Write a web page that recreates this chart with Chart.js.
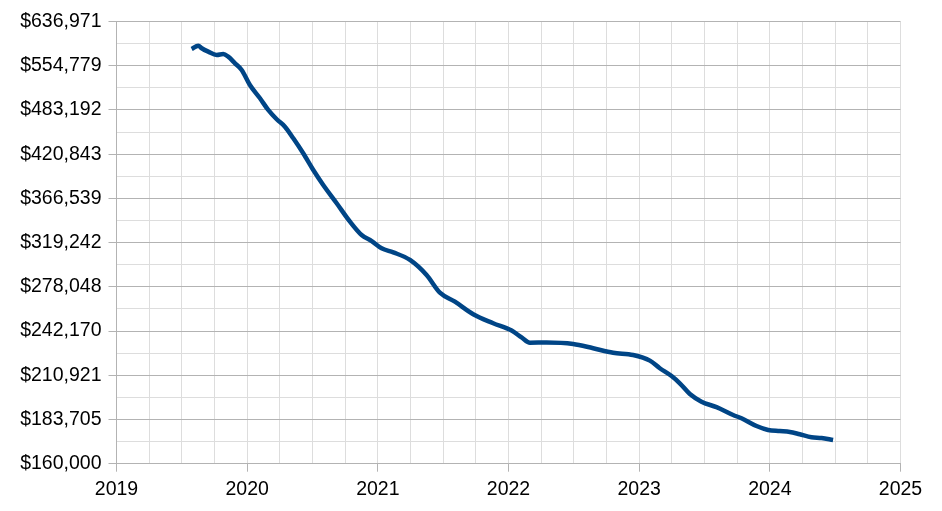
<!DOCTYPE html>
<html>
<head>
<meta charset="utf-8">
<script src="https://cdn.jsdelivr.net/npm/chart.js@4.4.1/dist/chart.umd.min.js"></script>
<style>
  html, body { margin: 0; padding: 0; background: #fff; }
  #wrap { width: 942px; height: 511px; }
</style>
</head>
<body>
<div id="wrap"><canvas id="chart"></canvas></div>
<script>
// decimal years and values
var years = [
  2019.575, 2019.626, 2019.652, 2019.702, 2019.767, 2019.817, 2019.855, 2019.907, 2019.958,
  2020.021, 2020.098, 2020.161, 2020.226, 2020.289, 2020.353, 2020.429, 2020.506, 2020.582,
  2020.685, 2020.787, 2020.876, 2020.953, 2021.029, 2021.118, 2021.246, 2021.373, 2021.475,
  2021.590, 2021.730, 2021.883, 2022.024, 2022.100, 2022.164, 2022.291, 2022.495, 2022.648,
  2022.801, 2022.954, 2023.082, 2023.158, 2023.248, 2023.311, 2023.388, 2023.477, 2023.592,
  2023.719, 2023.783, 2023.898, 2023.987, 2024.076, 2024.153, 2024.229, 2024.319, 2024.396,
  2024.484
];
var prices = [
  584600, 590700, 585900, 579700, 573700, 575500, 570700, 559000, 547500,
  522400, 501100, 483200, 469300, 458600, 442200, 422000, 400500, 382200,
  361000, 340800, 326900, 320800, 313600, 309700, 302400, 288500, 273000,
  265400, 255200, 248100, 242500, 237400, 233500, 233700, 232600, 229500,
  226300, 224700, 220800, 215600, 210400, 205700, 198900, 194200, 190900,
  186300, 184400, 180000, 177800, 177200, 176700, 175400, 173800, 173400,
  172300
];
var yTicks = [160000, 183705, 210921, 242170, 278048, 319242, 366539, 420843, 483192, 554779, 636971];
var xYears = [2019, 2020, 2021, 2022, 2023, 2024, 2025];

var majorGrid = '#b3b3b3';
var minorGrid = '#dddddd';

// log axis: major ticks plus one minor line between each pair
var yAll = [];
for (var i = 0; i < yTicks.length; i++) {
  yAll.push(yTicks[i]);
  if (i < yTicks.length - 1) yAll.push(Math.sqrt(yTicks[i] * yTicks[i + 1]));
}

function isMajorY(v) { return yTicks.indexOf(v) !== -1; }
function isMajorX(v) { return xYears.indexOf(v) !== -1; }

var font = { family: '"Liberation Sans", Arial, sans-serif', size: 19.5 };

new Chart(document.getElementById('chart').getContext('2d'), {
  type: 'line',
  data: {
    datasets: [{
      data: years.map(function (x, i) { return { x: x, y: prices[i] }; }),
      borderColor: '#004586',
      borderWidth: 4.5,
      pointRadius: 0,
      fill: false,
      cubicInterpolationMode: 'monotone'
    }]
  },
  options: {
    responsive: true,
    maintainAspectRatio: false,
    animation: false,
    layout: { padding: { left: 0, right: 41.5, top: 21.5, bottom: 0 } },
    plugins: { legend: { display: false }, tooltip: { enabled: false } },
    scales: {
      x: {
        type: 'linear',
        min: 2019,
        max: 2025,
        afterFit: function (s) { s.height = 47.3; },
        ticks: {
          stepSize: 0.25,
          autoSkip: false,
          maxRotation: 0,
          padding: 6,
          color: '#000',
          font: font,
          callback: function (v) { return isMajorX(v) ? String(v) : ''; }
        },
        grid: {
          tickLength: 8,
          color: minorGrid,
          tickColor: function (c) { return c.tick && isMajorX(c.tick.value) ? majorGrid : 'rgba(0,0,0,0)'; }
        },
        border: { color: majorGrid }
      },
      y: {
        type: 'logarithmic',
        min: yTicks[0],
        max: yTicks[yTicks.length - 1],
        afterFit: function (s) { s.width = 116.5; },
        afterBuildTicks: function (s) {
          s.ticks = yAll.map(function (v) { return { value: v }; });
        },
        ticks: {
          autoSkip: false,
          padding: 7,
          color: '#000',
          font: font,
          callback: function (v) {
            return isMajorY(v) ? '$' + v.toLocaleString('en-US') : '';
          }
        },
        grid: {
          tickLength: 8,
          color: function (c) { return c.tick && isMajorY(c.tick.value) ? majorGrid : minorGrid; },
          tickColor: function (c) { return c.tick && isMajorY(c.tick.value) ? majorGrid : 'rgba(0,0,0,0)'; }
        },
        border: { color: majorGrid }
      }
    }
  }
});
</script>
</body>
</html>
